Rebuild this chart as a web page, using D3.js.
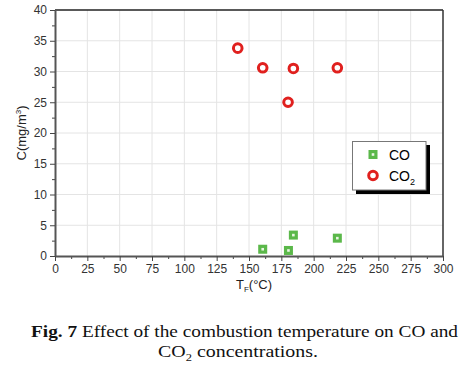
<!DOCTYPE html>
<html>
<head>
<meta charset="utf-8">
<script src="https://cdn.jsdelivr.net/npm/d3@7"></script>
<style>
  body { margin: 0; background: #fff; }
  svg { display: block; }
  .tick text { font-family: "Liberation Sans", Arial, sans-serif; font-size: 12px; fill: #333; }
</style>
</head>
<body>
<script>
// values
const coTemp = [160.6, 180.5, 184.3, 218.3];
const coConc = [1.1, 0.9, 3.4, 2.9];
const co2Temp = [141.3, 160.6, 180.2, 184.3, 218.3];
const co2Conc = [33.8, 30.6, 25.0, 30.5, 30.6];
const xTicks = [0, 25, 50, 75, 100, 125, 150, 175, 200, 225, 250, 275, 300];
const yTicks = [0, 5, 10, 15, 20, 25, 30, 35, 40];

const W = 462, H = 371;
const M = { left: 55, right: 19, top: 10, bottom: 115 };
const innerW = W - M.left - M.right;
const innerH = H - M.top - M.bottom;

const svg = d3.select('body').append('svg')
    .attr('width', W)
    .attr('height', H);

const x = d3.scaleLinear().domain([0, 300]).range([0, innerW]);
const y = d3.scaleLinear().domain([0, 40]).range([innerH, 0]);

const g = svg.append('g').attr('transform', `translate(${M.left},${M.top})`);

// grid
g.append('g').selectAll('line').data(xTicks.slice(1, -1))
    .enter().append('line')
    .attr('x1', d => x(d)).attr('x2', d => x(d))
    .attr('y1', 0).attr('y2', innerH)
    .attr('stroke', '#e4e4e4').attr('stroke-width', 1);
g.append('g').selectAll('line').data(yTicks.slice(1, -1))
    .enter().append('line')
    .attr('x1', 0).attr('x2', innerW)
    .attr('y1', d => y(d)).attr('y2', d => y(d))
    .attr('stroke', '#e4e4e4').attr('stroke-width', 1);

// frame top/right
g.append('line').attr('x1', 0).attr('x2', innerW).attr('y1', 0).attr('y2', 0)
    .attr('stroke', '#222').attr('stroke-width', 1.5);
g.append('line').attr('x1', innerW).attr('x2', innerW).attr('y1', 0).attr('y2', innerH)
    .attr('stroke', '#333').attr('stroke-width', 1.5);

// minor ticks
const xMinor = d3.range(12.5, 300, 25);
const yMinor = d3.range(2.5, 40, 5);
g.append('g').attr('transform', `translate(0,${innerH})`)
    .call(d3.axisBottom(x).tickValues(xMinor).tickSize(3).tickFormat(''))
    .call(a => a.select('.domain').remove())
    .selectAll('line').attr('stroke', '#444');
g.append('g')
    .call(d3.axisLeft(y).tickValues(yMinor).tickSize(3).tickFormat(''))
    .call(a => a.select('.domain').remove())
    .selectAll('line').attr('stroke', '#444');

// major axes
const xAxis = g.append('g').attr('transform', `translate(0,${innerH})`)
    .call(d3.axisBottom(x).tickValues(xTicks).tickSize(5).tickSizeOuter(0).tickPadding(3));
const yAxis = g.append('g')
    .call(d3.axisLeft(y).tickValues(yTicks).tickSize(5).tickSizeOuter(0).tickPadding(3));
[xAxis, yAxis].forEach(a => {
    a.select('.domain').attr('stroke', '#555').attr('stroke-width', 2);
    a.selectAll('.tick line').attr('stroke', '#444');
});

// axis labels
svg.append('text')
    .attr('transform', `translate(26,${M.top + innerH / 2}) rotate(-90)`)
    .attr('text-anchor', 'middle')
    .style('font-family', '"Liberation Sans", Arial, sans-serif')
    .style('font-size', '13px').attr('fill', '#222')
    .html('C(mg/m<tspan dy="-5" font-size="8px">3</tspan><tspan dy="5">)</tspan>');

svg.append('text')
    .attr('x', M.left + innerW / 2 + 5).attr('y', 289)
    .attr('text-anchor', 'middle')
    .style('font-family', '"Liberation Sans", Arial, sans-serif')
    .style('font-size', '13px').attr('fill', '#222')
    .html('T<tspan dy="3" font-size="8px">F</tspan><tspan dy="-3">(°C)</tspan>');

// markers
const green = '#5bb84a', red = '#e0201e';
const coData = coTemp.map((t, i) => ({ t, c: coConc[i] }));
const co2Data = co2Temp.map((t, i) => ({ t, c: co2Conc[i] }));

function square(sel, cx, cy) {
    sel.append('rect').attr('x', cx - 4.5).attr('y', cy - 4.5)
        .attr('width', 9).attr('height', 9).attr('fill', green);
    sel.append('rect').attr('x', cx - 1.3).attr('y', cy - 1.3)
        .attr('width', 2.6).attr('height', 2.6).attr('fill', '#eaf6e4');
}
function ring(sel, cx, cy) {
    sel.append('circle').attr('cx', cx).attr('cy', cy).attr('r', 4.3)
        .attr('fill', '#fff').attr('stroke', red).attr('stroke-width', 3);
}

coData.forEach(d => square(g, x(d.t), y(d.c)));
co2Data.forEach(d => ring(g, x(d.t), y(d.c)));

// legend
const lg = svg.append('g');
lg.append('rect').attr('x', 356).attr('y', 145).attr('width', 74).attr('height', 49).attr('fill', '#000');
lg.append('rect').attr('x', 352.5).attr('y', 141.5).attr('width', 73.5).attr('height', 48.5)
    .attr('fill', '#fff').attr('stroke', '#777').attr('stroke-width', 1);
square(lg, 373, 154.5);
ring(lg, 373, 175.5);
lg.append('text').attr('x', 389).attr('y', 159.5)
    .style('font-family', '"Liberation Sans", Arial, sans-serif').style('font-size', '14px')
    .text('CO');
lg.append('text').attr('x', 389).attr('y', 180.5)
    .style('font-family', '"Liberation Sans", Arial, sans-serif').style('font-size', '14px')
    .html('CO<tspan dy="4" font-size="9px">2</tspan>');

// caption
const cap = svg.append('g')
    .style('font-family', '"Liberation Serif", "Times New Roman", serif')
    .style('font-size', '17.5px').attr('fill', '#111');
cap.append('text').attr('x', 244.5).attr('y', 337).attr('text-anchor', 'middle')
    .attr('textLength', 427).attr('lengthAdjust', 'spacingAndGlyphs')
    .html('<tspan font-weight="bold">Fig. 7</tspan> Effect of the combustion temperature on CO and');
cap.append('text').attr('x', 238).attr('y', 357).attr('text-anchor', 'middle')
    .attr('textLength', 160).attr('lengthAdjust', 'spacingAndGlyphs')
    .html('CO<tspan dy="4" font-size="11px">2</tspan><tspan dy="-4"> concentrations.</tspan>');
</script>
</body>
</html>
